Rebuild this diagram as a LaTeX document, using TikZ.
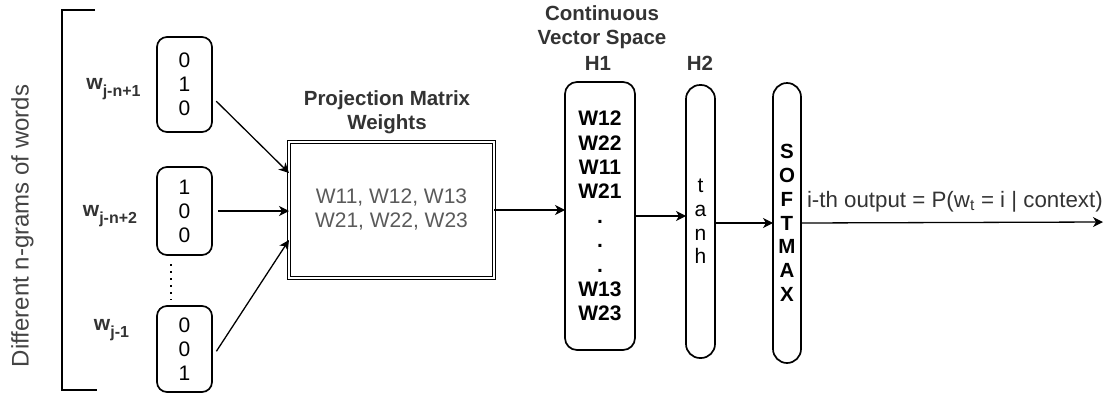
\documentclass[tikz,border=0pt]{standalone}
\usepackage{fontspec}
\setmainfont{Liberation Sans}
\usetikzlibrary{arrows.meta,calc}
\definecolor{titlegray}{HTML}{333333}
\definecolor{sidegray}{HTML}{444444}
\definecolor{weightgray}{HTML}{5A5A5A}
\newcommand{\wsub}[1]{w\raisebox{-0.3em}{\fontsize{16}{16}\selectfont #1}}

\begin{document}
\begin{tikzpicture}[x=1pt,y=-1pt,
  every node/.style={inner sep=0pt, outer sep=0pt, font=\fontsize{21}{24}\selectfont},
  vecbox/.style={draw, line width=1.7pt, rounded corners=10pt, minimum width=55pt, align=center},
  layerbox/.style={draw, line width=1.7pt, align=center},
  pillbox/.style={layerbox, rounded corners=14pt},
  title/.style={align=center, text=titlegray, font=\fontsize{20.5}{24}\selectfont\bfseries},
  wlabel/.style={font=\fontsize{21}{24}\selectfont\bfseries, text=titlegray},
  arr/.style={line width=1.3pt, -{Stealth[length=10pt,width=10pt,inset=3pt]}}
]
\useasboundingbox (0,0) rectangle (1108,394);

% side label and bracket
\node[rotate=90, text=sidegray, font=\fontsize{24}{28}\selectfont] (ngrams) at (22.5,226) {Different n-grams of words};
\draw[line width=2.3pt] (95,10) -- (62,10) -- (62,390) -- (97,390);

% one-hot input vectors
\node[vecbox, minimum height=95pt] (b1) at (184.5,84.5) {0\\1\\0};
\node[vecbox, minimum height=88pt] (b2) at (184.5,211) {1\\0\\0};
\node[vecbox, minimum height=86pt] (b3) at (184.5,349) {0\\0\\1};
\node[wlabel] (l1) at (113.5,89) {\wsub{j-n+1}};
\node[wlabel] (l2) at (110,216) {\wsub{j-n+2}};
\node[wlabel] (l3) at (111.5,330) {\wsub{j-1}};
\coordinate (dtop) at (171,264);
\coordinate (dbot) at (171,300);
\draw[line width=2.2pt, dash pattern=on 2pt off 5pt] (dtop) -- (dbot);

% projection layer
\node[draw, line width=1.3pt, double, double distance=1.6pt, minimum width=205pt, minimum height=136pt,
      align=center, text=weightgray] (proj) at (391.5,210) {W11, W12, W13\\W21, W22, W23};
\node[title] (projt) at (387,112) {Projection Matrix\\Weights};

% hidden layers and output layer
\node[layerbox, rounded corners=12pt, minimum width=70pt, minimum height=268pt,
      font=\fontsize{21}{24.4}\selectfont\bfseries] (h1) at (600,216)
      {W12\\W22\\W11\\W21\\.\\.\\.\\W13\\W23};
\node[title] (h1t) at (602,27) {Continuous\\Vector Space};
\node[title] (h1n) at (598,63) {H1};
\node[pillbox, minimum width=29pt, minimum height=273pt, font=\fontsize{21}{23.6}\selectfont] (h2) at (700.5,221.5) {t\\a\\n\\h};
\node[title] (h2n) at (700,63) {H2};
\node[pillbox, minimum width=28pt, minimum height=280pt, font=\fontsize{20.5}{23.8}\selectfont\bfseries] (sm) at (787,223) {S\\O\\F\\T\\M\\A\\X};
\coordinate (out) at (1103,222);
\node[anchor=base west, text=titlegray, font=\fontsize{22.3}{26}\selectfont] (outl) at (807,207) {i-th output = P(w\textsubscript{t} = i | context)};

% connectors
\draw[arr, shorten <=6pt] ([yshift=-12.5pt]b1.east) -- ([yshift=37pt]proj.west);
\draw[arr, shorten <=6pt] (b2.east) -- (b2.east -| proj.west);
\draw[arr, shorten <=8pt] ([yshift=-9pt]b3.east) -- ([yshift=-30pt]proj.west);
\draw[arr] (proj.east) -- (proj.east -| h1.west);
\draw[arr] (h1.east) -- (h1.east -| h2.west);
\draw[arr] (h2.east |- sm.west) -- (sm.west);
\draw[arr] (sm.east) -- (out);
\end{tikzpicture}
\end{document}
